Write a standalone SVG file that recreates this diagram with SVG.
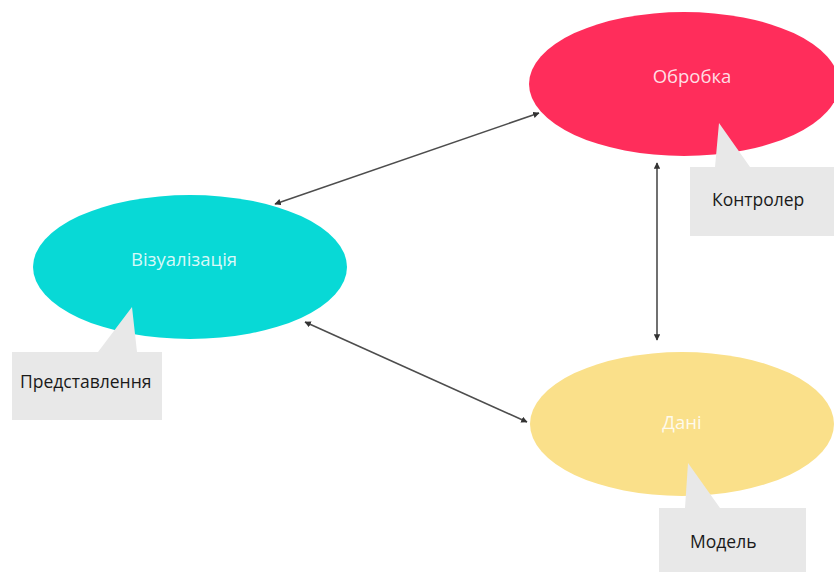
<svg xmlns="http://www.w3.org/2000/svg" width="834" height="572" viewBox="0 0 834 572">
  <style>
    .node-label { font-family: "Open Sans", "Noto Sans", "DejaVu Sans", sans-serif; font-size: 18.5px; fill: #ffffff; fill-opacity: 0.85; text-anchor: middle; }
    .note { fill: #e8e8e8; }
    .note-label { font-family: "Open Sans", "Noto Sans", "DejaVu Sans", sans-serif; font-size: 17.5px; fill: #1a1a1a; }
    .link { stroke: #4d4d4d; stroke-width: 1.6; fill: none; marker-start: url(#tip); marker-end: url(#tip); }
  </style>
  <defs>
    <marker id="tip" viewBox="0 0 10 10" refX="9" refY="5" markerWidth="4" markerHeight="4" orient="auto-start-reverse">
      <path d="M0,0 L10,5 L0,10 z" fill="#333333"/>
    </marker>
  </defs>
  <rect width="834" height="572" fill="#ffffff"/>

  <!-- Controller: processing -->
  <g id="controller">
    <ellipse cx="684" cy="84" rx="155" ry="72" fill="#ff2d5b"/>
    <path class="note" d="M690,167 L715,167 L719,123 L750,167 L834,167 L834,236 L690,236 z"/>
    <text class="node-label" x="692" y="83">Обробка</text>
    <text class="note-label" x="712" y="206">Контролер</text>
  </g>

  <!-- View: visualisation -->
  <g id="view">
    <ellipse cx="190" cy="267" rx="157" ry="72" fill="#08d9d6"/>
    <path class="note" d="M12,352 L98,352 L132,307 L137,352 L162,352 L162,420 L12,420 z"/>
    <text class="node-label" x="184" y="266">Візуалізація</text>
    <text class="note-label" x="20" y="388">Представлення</text>
  </g>

  <!-- Model: data -->
  <g id="model">
    <ellipse cx="682" cy="424" rx="152" ry="72" fill="#fae08a"/>
    <path class="note" d="M659,508 L685,508 L688,463 L720,508 L806,508 L806,572 L659,572 z"/>
    <text class="node-label" x="682" y="429">Дані</text>
    <text class="note-label" x="690" y="548">Модель</text>
  </g>

  <!-- Connectors -->
  <g id="connectors">
    <line class="link" x1="275" y1="204" x2="539" y2="113"/>
    <line class="link" x1="305" y1="322" x2="527" y2="422"/>
    <line class="link" x1="657" y1="163" x2="657" y2="340"/>
  </g>
</svg>
